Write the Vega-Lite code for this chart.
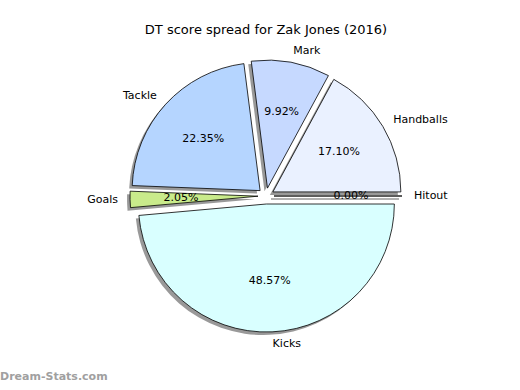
{
  "$schema": "https://vega.github.io/schema/vega-lite/v6.json",
  "padding": {"top": 24, "left": 0, "right": 0, "bottom": 0},
  "title": {"text": "DT score spread for Zak Jones (2016)", "font": "DejaVu Sans", "fontSize": 13, "fontWeight": "normal", "color": "#000000", "anchor": "middle"},
  "config": {"view": {"stroke": null}, "concat": {"spacing": 0}},
  "vconcat": [
    {
      "width": 532,
      "height": 310,
      "title": {"text": "Dream-Stats.com", "orient": "bottom", "anchor": "start", "font": "DejaVu Sans", "fontSize": 11, "fontWeight": "bold", "color": "#a0a0a0", "offset": 20},
      "data": {"values": [
        {"idx": 1, "name": "Handballs", "value": 0.1710},
        {"idx": 2, "name": "Mark", "value": 0.0992},
        {"idx": 3, "name": "Tackle", "value": 0.2235},
        {"idx": 4, "name": "Goals", "value": 0.0205},
        {"idx": 5, "name": "Kicks", "value": 0.4857},
        {"idx": 6, "name": "Hitout", "value": 0.0}
      ]},
      "transform": [{"stack": "value", "groupby": [], "sort": [{"field": "idx", "order": "ascending"}], "as": ["v0", "v1"]}],
      "encoding": {
        "theta": {"field": "v0", "type": "quantitative", "scale": {"domain": [0, 0.9999], "range": [1.5707963, -4.712389]}},
        "theta2": {"field": "v1"}
      },
      "layer": [
        {"transform": [{"filter": "datum.name === 'Handballs'"}], "mark": {"type": "arc", "radius": 128, "xOffset": 3.87, "yOffset": -1.09, "fill": "#333333", "opacity": 0.5}},
        {"transform": [{"filter": "datum.name === 'Mark'"}], "mark": {"type": "arc", "radius": 128, "xOffset": -1.53, "yOffset": -4.86, "fill": "#333333", "opacity": 0.5}},
        {"transform": [{"filter": "datum.name === 'Tackle'"}], "mark": {"type": "arc", "radius": 128, "xOffset": -8.9, "yOffset": -2.4, "fill": "#333333", "opacity": 0.5}},
        {"transform": [{"filter": "datum.name === 'Goals'"}], "mark": {"type": "arc", "radius": 128, "xOffset": -11, "yOffset": 3.2, "fill": "#333333", "opacity": 0.5}},
        {"transform": [{"filter": "datum.name === 'Kicks'"}], "mark": {"type": "arc", "radius": 128, "xOffset": -2.65, "yOffset": 11, "fill": "#333333", "opacity": 0.5}},
        {"transform": [{"filter": "datum.name === 'Hitout'"}], "mark": {"type": "arc", "radius": 128, "xOffset": 5, "yOffset": 3, "fill": "#333333", "opacity": 0.5, "stroke": "#333333", "strokeWidth": 1}},
        {"transform": [{"filter": "datum.name === 'Handballs'"}], "mark": {"type": "arc", "radius": 128, "xOffset": 6.87, "yOffset": -4.09, "fill": "#eaf1ff", "stroke": "#000000", "strokeWidth": 0.8}},
        {"transform": [{"filter": "datum.name === 'Mark'"}], "mark": {"type": "arc", "radius": 128, "xOffset": 1.47, "yOffset": -7.86, "fill": "#c6d9ff", "stroke": "#000000", "strokeWidth": 0.8}},
        {"transform": [{"filter": "datum.name === 'Tackle'"}], "mark": {"type": "arc", "radius": 128, "xOffset": -5.9, "yOffset": -5.4, "fill": "#b5d5ff", "stroke": "#000000", "strokeWidth": 0.8}},
        {"transform": [{"filter": "datum.name === 'Goals'"}], "mark": {"type": "arc", "radius": 128, "xOffset": -8, "yOffset": 0.2, "fill": "#c9eb8b", "stroke": "#000000", "strokeWidth": 0.8}},
        {"transform": [{"filter": "datum.name === 'Kicks'"}], "mark": {"type": "arc", "radius": 128, "xOffset": 0.35, "yOffset": 8, "fill": "#d9ffff", "stroke": "#000000", "strokeWidth": 0.8}},
        {"transform": [{"filter": "datum.name === 'Hitout'"}], "mark": {"type": "arc", "radius": 128, "xOffset": 8, "yOffset": 0, "fill": "#ffffff", "stroke": "#000000", "strokeWidth": 0.8}},
        {
          "mark": {"type": "text", "radius": 85, "font": "DejaVu Sans", "fontSize": 11, "color": "#000000", "align": "center", "baseline": "middle"},
          "encoding": {
            "theta": {"field": "value", "type": "quantitative", "stack": true, "scale": {"domain": [0, 0.9999], "range": [1.5707963, -4.712389]}},
            "theta2": null,
            "order": {"field": "idx"},
            "detail": {"field": "name"},
            "text": {"field": "value", "type": "quantitative", "format": ".2%"}
          }
        },
        {
          "mark": {"type": "text", "radius": 148, "font": "DejaVu Sans", "fontSize": 11, "color": "#000000", "align": "left", "baseline": "middle"},
          "encoding": {
            "theta": {"field": "value", "type": "quantitative", "stack": true, "scale": {"domain": [0, 0.9999], "range": [1.5707963, -4.712389]}},
            "theta2": null,
            "order": {"field": "idx"},
            "detail": {"field": "name"},
            "text": {"condition": {"test": "datum.name !== 'Tackle' && datum.name !== 'Goals'", "field": "name"}, "value": ""}
          }
        },
        {
          "mark": {"type": "text", "radius": 148, "font": "DejaVu Sans", "fontSize": 11, "color": "#000000", "align": "right", "baseline": "middle"},
          "encoding": {
            "theta": {"field": "value", "type": "quantitative", "stack": true, "scale": {"domain": [0, 0.9999], "range": [1.5707963, -4.712389]}},
            "theta2": null,
            "order": {"field": "idx"},
            "detail": {"field": "name"},
            "text": {"condition": {"test": "datum.name === 'Tackle' || datum.name === 'Goals'", "field": "name"}, "value": ""}
          }
        }
      ]
    }
  ]
}
